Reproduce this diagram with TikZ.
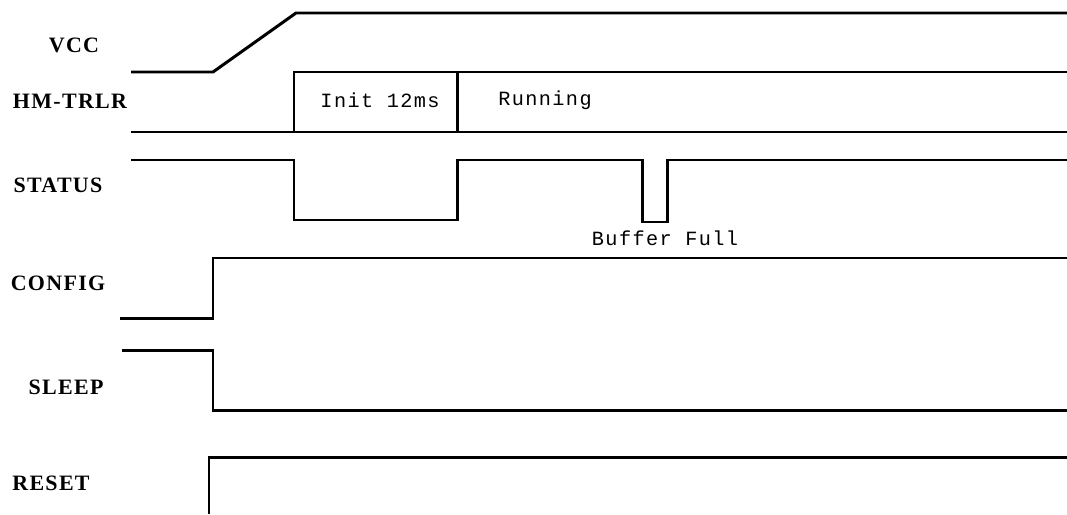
\documentclass[tikz,border=0pt]{standalone}
\usepackage{fontspec}
\setmainfont{Liberation Serif}
\setmonofont{Liberation Mono}
\usepackage{tikz}
\usetikzlibrary{calc}
\tikzset{
  wave/.style={draw=black,line width=1.7pt,line join=miter},
  sigfont/.style={font=\fontsize{12.5}{13}\selectfont\bfseries\addfontfeature{LetterSpace=6},inner sep=0pt},
  notefont/.style={font=\fontsize{11.5}{12}\selectfont\ttfamily\addfontfeature{LetterSpace=7},inner sep=0pt},
}
\newcommand{\siglabel}[3]{\node[sigfont] (#1) at (#2) {#3};}
\newcommand{\signote}[3]{\node[notefont] (#1) at (#2) {#3};}

\begin{document}
\begin{tikzpicture}[x=0.02cm,y=-0.02cm]
        \useasboundingbox (0,0) rectangle (1067,514);
        % signal names
        \siglabel{vcc}{74,45}{VCC}
        \siglabel{hm}{70,101}{HM-TRLR}
        \siglabel{status}{58,185}{STATUS}
        \siglabel{config}{58,283}{CONFIG}
        \siglabel{sleep}{66,387}{SLEEP}
        \siglabel{reset}{51,483}{RESET}
        % waveforms
        \draw[wave] (131,72) -- (213,72) -- (296,13) -- (1067,13);
        \draw[wave] (294,132) -- (294,72) -- (1067,72);
        \draw[wave] (131,132) -- (1067,132);
        \draw[wave] (457,72) -- (457,132);
        \draw[wave] (131,160) -- (294,160) -- (294,220) -- (457,220) -- (457,160)
              -- (642,160) -- (642,222) -- (667,222) -- (667,160) -- (1067,160);
        \draw[wave] (120,318) -- (213,318) -- (213,258) -- (1067,258);
        \draw[wave] (122,350) -- (213,350) -- (213,410) -- (1067,410);
        \draw[wave] (209,514) -- (209,457) -- (1067,457);
        % notes
        \signote{init}{380,100}{Init 12ms}
        \signote{run}{545,100}{Running}
        \signote{buf}{665,238}{Buffer Full}
      \end{tikzpicture}
\end{document}
